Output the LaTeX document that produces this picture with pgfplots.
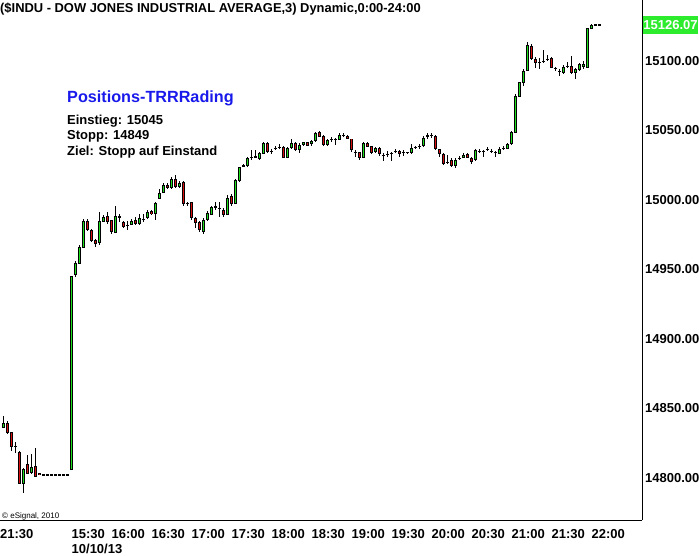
\documentclass[border=0pt]{standalone}
\usepackage{pgfplots}
\pgfplotsset{compat=1.18}
\usepackage{pgfplotstable}
\usepackage{fontspec}
\setmainfont{Liberation Sans}
\definecolor{cgreen}{RGB}{30,225,30}
\definecolor{cred}{RGB}{215,15,15}
\definecolor{cblue}{RGB}{25,25,235}
\definecolor{lgreen}{RGB}{45,235,45}

\pgfplotstableread{
i o h l c
0 14836.7 14844.6 14836.0 14839.6
1 14839.6 14841.0 14832.0 14832.6
2 14832.6 14833.0 14819.7 14822.5
3 14822.8 14826.0 14818.0 14822.8
4 14818.2 14819.7 14796.0 14796.2
5 14796.4 14807.0 14789.4 14806.5
6 14810.0 14816.6 14803.0 14803.6
7 14803.8 14817.3 14803.0 14808.0
8 14808.0 14821.6 14801.0 14801.4
9 14803.6 14803.6 14802.4 14802.4
10 14802.4 14802.4 14802.4 14802.4
11 14802.4 14802.4 14802.4 14802.4
12 14802.4 14802.4 14802.4 14802.4
13 14802.4 14802.4 14802.4 14802.4
14 14802.4 14802.4 14802.4 14802.4
15 14802.4 14802.4 14802.4 14802.4
16 14802.4 14802.4 14802.4 14802.4
17 14806.3 14945.3 14806.3 14945.3
18 14946.8 14956.0 14945.0 14954.7
19 14954.7 14967.6 14954.0 14966.2
20 14966.2 14986.3 14966.0 14984.9
21 14984.9 14986.0 14978.0 14979.1
22 14978.4 14979.0 14970.0 14971.2
23 14971.2 14972.0 14966.2 14969.1
24 14969.1 14991.4 14968.0 14984.9
25 14984.9 14989.0 14984.0 14987.8
26 14987.8 14991.4 14983.0 14984.2
27 14984.9 14985.5 14976.0 14977.0
28 14977.0 14995.7 14976.0 14988.5
29 14987.8 14990.0 14984.2 14987.8
30 14984.2 14985.0 14980.0 14981.3
31 14982.0 14984.9 14978.4 14982.0
32 14982.7 14986.0 14982.0 14984.9
33 14985.6 14988.0 14982.0 14983.5
34 14983.5 14990.0 14982.0 14987.1
35 14986.4 14990.0 14984.0 14986.4
36 14987.1 14993.0 14986.0 14990.7
37 14991.4 14993.0 14989.0 14990.0
38 14990.0 14999.0 14985.6 14997.8
39 15001.4 15007.9 15000.7 15005.0
40 15005.8 15012.0 15005.0 15010.8
41 15010.8 15012.0 15008.0 15009.4
42 15009.4 15017.0 15008.0 15015.1
43 15015.1 15018.0 15009.0 15010.1
44 15010.1 15014.0 15009.0 15012.2
45 15013.0 15014.0 14996.0 14997.8
46 14997.8 14999.0 14996.0 14997.8
47 14998.6 14999.0 14986.0 14987.8
48 14987.1 14988.0 14979.9 14984.2
49 14984.2 14985.0 14977.0 14979.1
50 14977.7 14987.0 14976.0 14985.6
51 14986.3 14992.0 14985.0 14990.0
52 14990.0 14996.0 14989.0 14995.0
53 14995.0 14999.0 14993.0 14995.0
54 14994.3 14999.0 14988.0 14994.3
55 14992.8 14994.0 14988.0 14990.0
56 14990.0 15003.6 14989.0 15001.4
57 15002.2 15004.0 14996.0 14997.8
58 14997.8 15015.0 14997.0 15014.4
59 15014.4 15024.0 15013.0 15023.7
60 15024.5 15026.0 15024.0 15025.2
61 15025.2 15031.0 15024.0 15030.2
62 15030.9 15036.0 15029.0 15030.9
63 15030.5 15036.0 15030.0 15031.0
64 15030.2 15035.0 15029.0 15033.8
65 15033.8 15042.0 15033.0 15041.0
66 15041.0 15042.0 15034.0 15035.3
67 15035.3 15037.0 15033.0 15035.3
68 15037.0 15039.0 15036.0 15037.4
69 15038.1 15040.0 15037.0 15038.1
70 15038.1 15039.0 15030.0 15030.9
71 15030.9 15038.0 15030.0 15037.4
72 15038.1 15044.0 15037.0 15041.0
73 15041.0 15042.0 15035.0 15036.0
74 15036.7 15041.0 15034.0 15039.6
75 15040.3 15042.0 15039.0 15041.7
76 15041.7 15042.0 15039.0 15039.6
77 15040.3 15043.0 15039.0 15042.4
78 15043.2 15049.0 15042.0 15048.2
79 15048.9 15050.0 15045.0 15046.0
80 15046.0 15047.0 15039.0 15040.3
81 15040.3 15044.0 15039.0 15043.2
82 15043.9 15045.0 15042.0 15043.9
83 15043.9 15045.0 15040.0 15043.9
84 15043.9 15048.0 15043.0 15046.8
85 15046.8 15048.2 15045.3 15046.8
86 15046.0 15047.0 15044.0 15044.6
87 15043.9 15044.0 15035.0 15036.7
88 15034.5 15036.0 15031.0 15034.5
89 15034.5 15035.0 15029.0 15030.9
90 15030.9 15042.0 15030.0 15041.0
91 15041.0 15042.0 15038.0 15038.9
92 15038.9 15039.0 15033.0 15034.5
93 15035.3 15038.0 15034.0 15037.4
94 15037.4 15038.0 15032.0 15033.8
95 15032.4 15034.0 15028.0 15032.4
96 15033.1 15035.0 15031.0 15033.1
97 15033.8 15035.0 15028.0 15033.8
98 15035.3 15037.0 15034.0 15035.3
99 15035.3 15036.0 15031.0 15033.8
100 15034.5 15036.0 15032.0 15034.5
101 15034.5 15035.0 15033.0 15034.5
102 15034.5 15040.0 15033.0 15037.4
103 15038.1 15039.0 15037.0 15038.1
104 15038.9 15040.0 15037.0 15038.9
105 15039.6 15046.0 15038.0 15044.6
106 15046.4 15048.0 15044.0 15046.4
107 15046.8 15048.0 15045.0 15046.8
108 15046.0 15047.0 15036.0 15037.4
109 15036.7 15037.0 15031.0 15033.8
110 15033.1 15034.0 15025.0 15026.6
111 15027.3 15032.4 15026.0 15027.3
112 15028.8 15030.0 15024.0 15025.2
113 15025.2 15030.0 15023.0 15028.8
114 15030.2 15032.0 15029.0 15030.2
115 15030.9 15034.0 15030.0 15032.4
116 15033.1 15034.0 15030.0 15030.9
117 15030.2 15031.0 15026.0 15028.0
118 15029.5 15037.0 15028.0 15036.0
119 15035.3 15037.0 15034.0 15035.3
120 15035.3 15036.0 15030.9 15035.3
121 15036.7 15038.0 15035.0 15036.7
122 15035.3 15036.5 15034.0 15035.3
123 15034.5 15035.0 15031.0 15034.5
124 15033.8 15038.0 15033.0 15036.7
125 15037.4 15039.0 15036.0 15037.4
126 15037.4 15041.0 15037.0 15040.3
127 15041.0 15050.0 15040.0 15048.9
128 15048.9 15076.0 15048.0 15074.8
129 15074.8 15085.0 15074.0 15084.2
130 15084.9 15094.0 15082.0 15092.8
131 15093.5 15113.7 15093.0 15111.5
132 15110.8 15112.0 15101.0 15102.2
133 15101.4 15103.0 15095.0 15099.3
134 15099.3 15102.2 15094.2 15099.3
135 15100.0 15107.9 15099.0 15100.0
136 15101.4 15104.3 15100.0 15101.4
137 15102.2 15103.0 15095.0 15095.7
138 15095.0 15096.0 15093.0 15095.0
139 15092.8 15094.0 15089.2 15092.8
140 15092.1 15097.0 15091.0 15095.7
141 15096.4 15099.3 15095.0 15096.4
142 15096.4 15103.6 15091.0 15092.1
143 15092.1 15095.0 15087.0 15094.2
144 15094.2 15098.5 15093.0 15097.8
145 15096.0 15100.0 15094.0 15097.8
146 15095.7 15124.0 15095.0 15123.7
147 15123.7 15126.5 15123.0 15125.9
148 15126.07 15126.07 15126.07 15126.07
149 15126.07 15126.07 15126.07 15126.07
}\candles

\begin{document}
\begin{tikzpicture}
\path[use as bounding box] (0pt,-35pt) rectangle (699pt,520pt);
\begin{axis}[
  at={(0pt,0pt)}, anchor=south west,
  scale only axis, width=642pt, height=520pt,
  xmin=-0.875, xmax=159.625, ymin=14769.8, ymax=15143.9,
  axis x line*=bottom, axis y line*=right,
  axis line style={black, line width=1pt},
  clip=false,
  xtick={-0.875,17,27,37,47,57,67,77,87,97,107,117,127,137,147},
  xticklabels={21:30,{15:30\\10/10/13},16:00,16:30,17:00,17:30,18:00,18:30,19:00,19:30,20:00,20:30,21:00,21:30,22:00},
  ytick={14800,14850,14900,14950,15000,15050,15100},
  yticklabels={14800.00,14850.00,14900.00,14950.00,15000.00,15050.00,15100.00},
  major tick length=0pt,
  tick label style={font=\bfseries\fontsize{13}{14.5}\selectfont, text=black},
  xticklabel style={anchor=north west, inner sep=0pt, yshift=-9.5pt, align=left},
  yticklabel style={anchor=west, inner sep=0pt, xshift=3pt},
  /pgf/number format/assume math mode=true,
]
% wicks
\addplot[draw=none, mark=none, forget plot,
  error bars/.cd, y dir=both, y explicit, error mark=none,
  error bar style={draw=black, solid, line width=1pt}]
  table[x=i, y expr={(\thisrow{h}+\thisrow{l})/2}, y error expr={(\thisrow{h}-\thisrow{l})/2}] {\candles};
% body outlines
\addplot[draw=none, mark=none, forget plot,
  error bars/.cd, y dir=both, y explicit, error mark=none,
  error bar style={draw=black, solid, line width=3pt, line cap=butt}]
  table[x=i, y expr={(\thisrow{o}+\thisrow{c})/2}, y error expr={abs(\thisrow{c}-\thisrow{o})/2+0.36}] {\candles};
% green fills
\addplot[draw=none, mark=none, forget plot,
  error bars/.cd, y dir=both, y explicit, error mark=none,
  error bar style={draw=cgreen, solid, line width=1pt, line cap=butt}]
  table[x=i, y expr={(\thisrow{o}+\thisrow{c})/2}, y error expr={max((\thisrow{c}-\thisrow{o})/2-0.36,0)}] {\candles};
% red fills
\addplot[draw=none, mark=none, forget plot,
  error bars/.cd, y dir=both, y explicit, error mark=none,
  error bar style={draw=cred, solid, line width=1pt, line cap=butt}]
  table[x=i, y expr={(\thisrow{o}+\thisrow{c})/2}, y error expr={max((\thisrow{o}-\thisrow{c})/2-0.36,0)}] {\candles};

\node[anchor=base west, inner sep=0pt, yshift=-12.5pt, font=\bfseries\fontsize{12.9}{15}\selectfont]
  at (rel axis cs:0,1) {(\$INDU - DOW JONES INDUSTRIAL AVERAGE,3) Dynamic,0:00-24:00};
\node[anchor=base west, inner sep=0pt, xshift=67pt, yshift=-103pt, text=cblue, font=\bfseries\fontsize{16.2}{18}\selectfont]
  at (rel axis cs:0,1) {Positions-TRRRading};
\node[anchor=base west, inner sep=0pt, xshift=67pt, yshift=-124.5pt, font=\bfseries\fontsize{13}{15}\selectfont]
  at (rel axis cs:0,1) {Einstieg: 15045};
\node[anchor=base west, inner sep=0pt, xshift=67pt, yshift=-140pt, font=\bfseries\fontsize{13}{15}\selectfont]
  at (rel axis cs:0,1) {Stopp: 14849};
\node[anchor=base west, inner sep=0pt, xshift=67pt, yshift=-156pt, font=\bfseries\fontsize{13}{15}\selectfont]
  at (rel axis cs:0,1) {Ziel: Stopp auf Einstand};
\node[anchor=base west, inner sep=0pt, xshift=2pt, yshift=-518pt, font=\fontsize{8}{9}\selectfont]
  at (rel axis cs:0,1) {© eSignal, 2010};
\node[anchor=west, fill=lgreen, text=white, inner xsep=0.5pt, inner ysep=0pt, minimum height=17.5pt, xshift=0.7pt,
  font=\bfseries\fontsize{13}{15}\selectfont]
  at (axis cs:159.625,15126.07) {15126.07};
\end{axis}
\end{tikzpicture}
\end{document}
